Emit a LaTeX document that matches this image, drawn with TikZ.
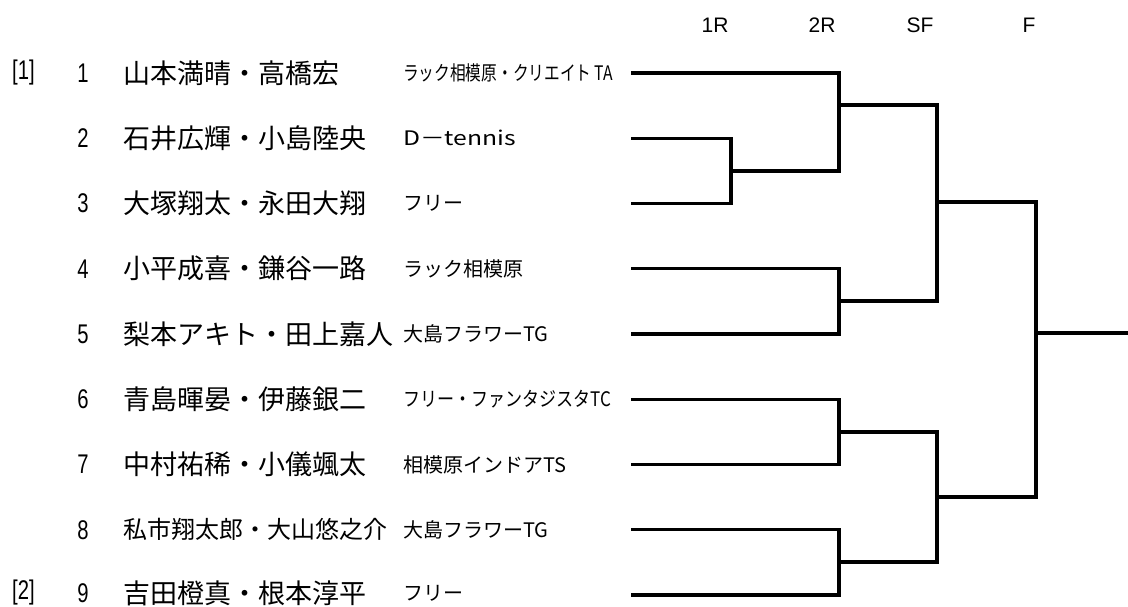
\documentclass[tikz,border=0pt]{standalone}
\usepackage{fontspec}
\usepackage{graphicx}
\setmainfont{Noto Sans CJK JP}
\newfontfamily\numfont[FakeStretch=0.75]{Liberation Sans}
\newfontfamily\hdfont{Liberation Sans}
\tikzset{
  seed/.style={anchor=west, inner sep=0, font=\numfont\fontsize{27}{27}\selectfont},
  num/.style={inner sep=0, font=\numfont\fontsize{27}{27}\selectfont},
  player/.style={anchor=west, inner sep=0, font=\fontsize{27}{27}\selectfont},
  club/.style={anchor=west, inner sep=0, font=\fontsize{20}{20}\selectfont},
  rnd/.style={inner sep=0, font=\hdfont\fontsize{21}{21}\selectfont},
  bracket/.style={line width=3.3pt}
}
\begin{document}
\begin{tikzpicture}[x=1pt,y=-1pt]
\useasboundingbox (0,0) rectangle (1128,606);
% round headers
\node[rnd] (h1) at (715,25) {1R};
\node[rnd] (h2) at (822,25) {2R};
\node[rnd] (h3) at (920,25) {SF};
\node[rnd] (h4) at (1029,25) {F};
% seeds
\node[seed] (s1) at (12,73) {[1]};
\node[seed] (s2) at (12,593) {[2]};
% entries
\foreach \i/\nm/\cl in {
  1/山本満晴・高橋宏/{\resizebox{210pt}{\height}{ラック相模原・クリエイト TA}},
  2/石井広輝・小島陸央/{\resizebox{113pt}{\height}{D－tennis}},
  3/大塚翔太・永田大翔/フリー,
  4/小平成喜・鎌谷一路/ラック相模原,
  5/梨本アキト・田上嘉人/大島フラワーTG,
  6/青島暉晏・伊藤銀二/{\resizebox{208pt}{\height}{フリー・ファンタジスタTC}},
  7/中村祐稀・小儀颯太/相模原インドアTS,
  8/{\fontsize{24}{24}\selectfont 私市翔太郎・大山悠之介}/大島フラワーTG,
  9/吉田橙真・根本淳平/フリー}{
\pgfmathsetmacro\y{73+(\i-1)*65.25}
\pgfmathsetmacro\ty{\y-(\i==9)*2}
\node[num] (n\i) at (83,\ty) {\i};
\node[player] (p\i) at (123,\ty) {\nm};
\node[club] (c\i) at (403,\ty) {\cl};
\coordinate (r\i) at (631,\y);
}
% joins
\coordinate (j23) at (731,171);
\coordinate (j123) at (839,105);
\coordinate (j45) at (839,301);
\coordinate (j67) at (839,432);
\coordinate (j89) at (839,562);
\coordinate (jtop) at (937,202);
\coordinate (jbot) at (937,497);
\coordinate (jf) at (1036,333);
\coordinate (win) at (1128,333);
\draw[bracket] (r2) -| (j23) |- (r3);
\draw[bracket] (r1) -| (j123) |- (j23);
\draw[bracket] (r4) -| (j45) |- (r5);
\draw[bracket] (r6) -| (j67) |- (r7);
\draw[bracket] (r8) -| (j89) |- (r9);
\draw[bracket] (j123) -| (jtop) |- (j45);
\draw[bracket] (j67) -| (jbot) |- (j89);
\draw[bracket] (jtop) -| (jf) |- (jbot);
\draw[bracket] (jf) -- (win);
\end{tikzpicture}
\end{document}
